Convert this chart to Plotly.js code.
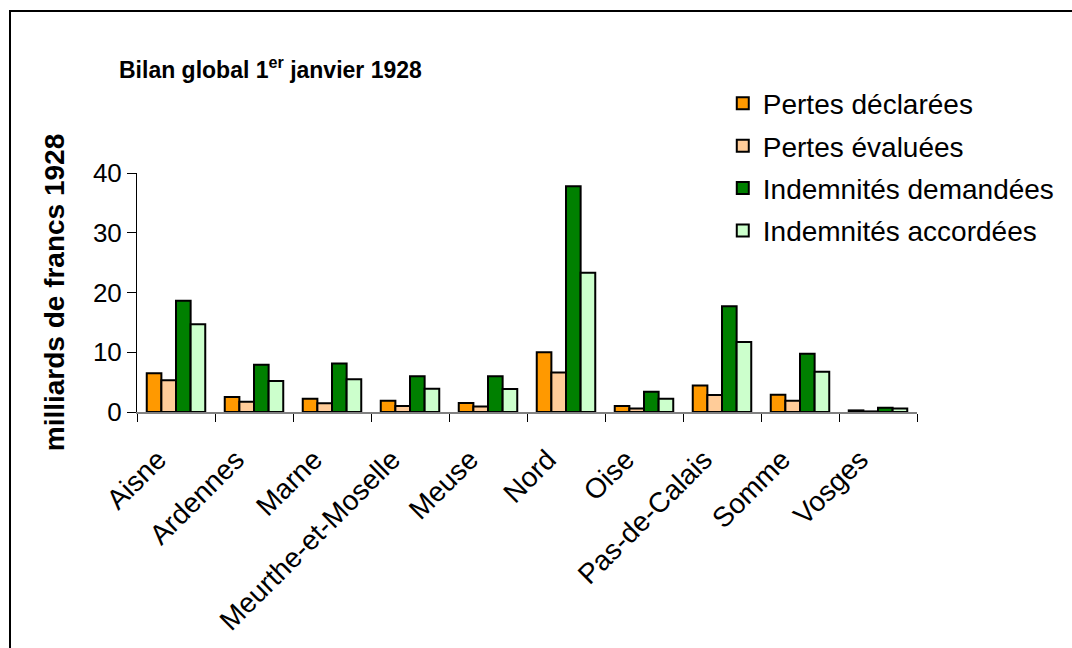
<!DOCTYPE html>
<html>
<head>
<meta charset="utf-8">
<script src="https://cdn.plot.ly/plotly-3.0.1.min.js"></script>
<style>
html,body{margin:0;padding:0;background:#fff;overflow:hidden;}
#frame{position:absolute;left:9px;top:10px;width:1200px;height:800px;border-left:2px solid #000;border-top:2px solid #000;pointer-events:none;z-index:5;}
#chart{position:absolute;left:0;top:0;width:1072px;height:648px;}
</style>
</head>
<body>
<div id="chart"></div>
<div id="frame"></div>
<script>
const departements = ["Aisne","Ardennes","Marne","Meurthe-et-Moselle","Meuse","Nord","Oise","Pas-de-Calais","Somme","Vosges"];
const pertesDeclarees = [6.5, 2.5, 2.2, 1.9, 1.5, 10.0, 1.0, 4.45, 2.9, 0.27];
const pertesEvaluees = [5.3, 1.7, 1.45, 1.0, 0.9, 6.6, 0.6, 2.85, 1.9, 0.1];
const indemnitesDemandees = [18.6, 7.9, 8.1, 6.0, 6.0, 37.8, 3.4, 17.7, 9.75, 0.7];
const indemnitesAccordees = [14.7, 5.2, 5.5, 3.9, 3.85, 23.3, 2.2, 11.7, 6.75, 0.6];

const seriesNames = ["Pertes déclarées","Pertes évaluées","Indemnités demandées","Indemnités accordées"];
const seriesValues = [pertesDeclarees, pertesEvaluees, indemnitesDemandees, indemnitesAccordees];
const seriesColors = ["#FF9900","#FFCC99","#008000","#CCFFCC"];

const font = "Arial, 'Liberation Sans', sans-serif";

const traces = seriesValues.map((vals, i) => ({
  type: "bar",
  name: seriesNames[i],
  x: departements,
  y: vals,
  legendgroup: "g" + i,
  marker: {color: seriesColors[i], line: {color: "#000", width: 2}},
  hoverinfo: "x+y+name"
}));

const layout = {
  width: 1072, height: 648,
  paper_bgcolor: "#fff", plot_bgcolor: "#fff",
  margin: {l: 137, r: 155, t: 173, b: 236},
  font: {family: font, color: "#000", size: 20},
  bargap: 0.25, bargroupgap: 0,
  title: {
    text: "<b>Bilan global 1<sup>er</sup> janvier 1928</b>",
    font: {family: font, size: 23, color: "#000"},
    xref: "container", yref: "container",
    x: 119/1072, xanchor: "left",
    y: 1 - 70/648, yanchor: "middle"
  },
  xaxis: {
    type: "category",
    tickangle: -45,
    tickson: "boundaries",
    ticks: "outside", ticklen: 8, tickcolor: "#000", tickwidth: 1,
    showline: true, linecolor: "#808080", linewidth: 2,
    showgrid: false, zeroline: false,
    ticklabelstandoff: 18,
    ticklabelshift: -18,
    tickfont: {family: font, size: 28, color: "#000"}
  },
  yaxis: {
    range: [0, 40], dtick: 10,
    ticks: "outside", ticklen: 9, tickcolor: "#000", tickwidth: 1,
    showline: true, linecolor: "#000", linewidth: 1,
    showgrid: false, zeroline: false,
    tickfont: {family: font, size: 26, color: "#000"},
    title: {text: "<b>milliards de francs 1928</b>", font: {family: font, size: 28, color: "#000"}, standoff: 20}
  },
  legend: {
    x: 0.751, xanchor: "left",
    y: 1.395, yanchor: "top",
    font: {family: font, size: 28, color: "#000"},
    bgcolor: "rgba(0,0,0,0)",
    tracegroupgap: 3,
    itemwidth: 30
  },
  showlegend: true
};

Plotly.newPlot("chart", traces, layout, {displayModeBar: false, staticPlot: false});
</script>
</body>
</html>
